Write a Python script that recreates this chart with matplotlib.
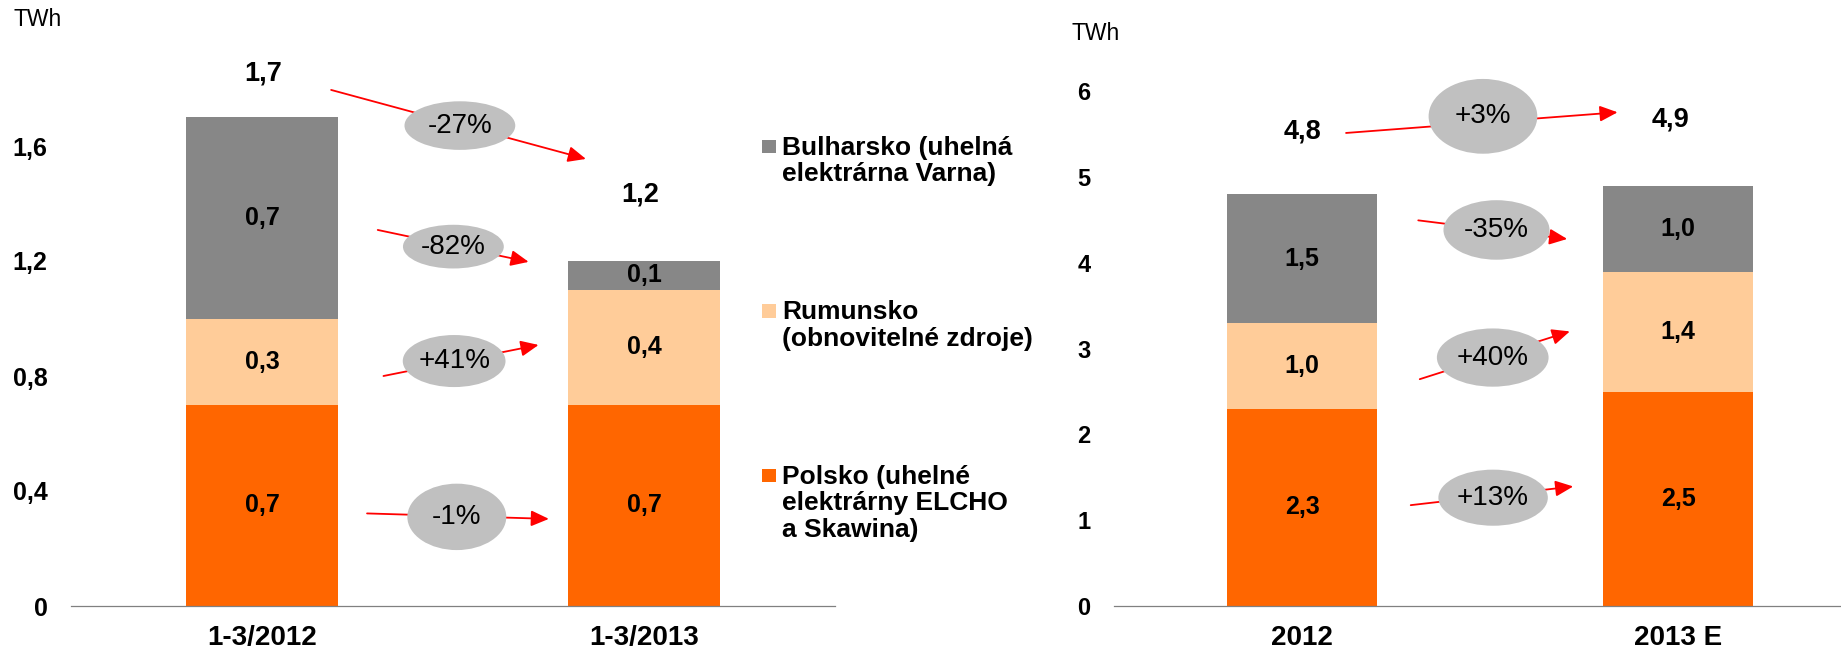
import matplotlib
matplotlib.use("Agg")
import matplotlib.pyplot as plt
from matplotlib.patches import Ellipse, Rectangle

plt.rcParams["font.family"] = ["Liberation Sans", "DejaVu Sans"]

# left chart: Q1 production, TWh
q_labels = ["1-3/2012", "1-3/2013"]
q_polsko = [0.7, 0.7]
q_rumunsko = [0.3, 0.4]
q_bulharsko = [0.7, 0.1]
q_changes = ["-27%", "-82%", "+41%", "-1%"]   # total, Bulharsko, Rumunsko, Polsko
q_ticks = [0, 0.4, 0.8, 1.2, 1.6]

# right chart: full year, TWh
y_labels = ["2012", "2013 E"]
y_polsko = [2.3, 2.5]
y_rumunsko = [1.0, 1.4]
y_bulharsko = [1.5, 1.0]
y_changes = ["+3%", "-35%", "+40%", "+13%"]
y_ticks = [0, 1, 2, 3, 4, 5, 6]

legend_labels = [
    "Bulharsko (uhelná\nelektrárna Varna)",
    "Rumunsko\n(obnovitelné zdroje)",
    "Polsko (uhelné\nelektrárny ELCHO\na Skawina)",
]

ORANGE = "#FF6600"
PEACH = "#FFCC99"
GRAY = "#878787"
BUBBLE = "#C0C0C0"

W, H = 1841, 652


def fmt(v):
    if v == 0:
        return "0"
    return f"{v:.1f}".replace(".", ",")


def box(x0, y0, x1, y1):
    # pixel box (from top left) -> figure fraction rect
    return [x0 / W, 1 - y1 / H, (x1 - x0) / W, (y1 - y0) / H]


def stacked(ax, cats, pol, rum, bul, tick_vals, tick_fmt, tick_size, total_offsets):
    x = list(range(len(cats)))
    base = [p + r for p, r in zip(pol, rum)]
    b1 = ax.bar(x, pol, 0.4, color=ORANGE)
    b2 = ax.bar(x, rum, 0.4, bottom=pol, color=PEACH)
    b3 = ax.bar(x, bul, 0.4, bottom=base, color=GRAY)
    for bars, vals in ((b1, pol), (b2, rum), (b3, bul)):
        ax.bar_label(bars, labels=[fmt(v) for v in vals], label_type="center",
                     fontsize=18, fontweight="bold")
    totals = [b + g for b, g in zip(base, bul)]
    for i, t in enumerate(totals):
        dx, dy = total_offsets[i]
        ax.annotate(fmt(t), xy=(i, t), xytext=(dx, dy), textcoords="offset pixels",
                    ha="center", va="center", fontsize=19.5, fontweight="bold")

    ax.set_yticks(tick_vals, [tick_fmt(v) for v in tick_vals],
                  fontsize=tick_size, fontweight="bold")
    ax.set_xticks(x, cats, fontsize=20, fontweight="bold")
    ax.tick_params(axis="y", length=0, pad=17)
    ax.tick_params(axis="x", length=0, pad=14)
    for s in ("left", "right", "top"):
        ax.spines[s].set_visible(False)
    ax.spines["bottom"].set_color("#808080")
    ax.spines["bottom"].set_linewidth(0.9)
    ax.set_facecolor("none")


def change_marks(ax, texts, layout):
    for txt, (x0, y0, x1, y1, ex, ey, ew, eh) in zip(texts, layout):
        ax.annotate("", xy=(x1, y1), xytext=(x0, y0),
                    arrowprops=dict(arrowstyle="-|>,head_length=0.45,head_width=0.2",
                                    color="red", lw=1.3, mutation_scale=24,
                                    shrinkA=0, shrinkB=0),
                    zorder=3)
        ax.add_patch(Ellipse((ex, ey), ew, eh, facecolor=BUBBLE, edgecolor="none", zorder=4))
        ax.text(ex, ey, txt, ha="center", va="center", fontsize=20, zorder=5)


fig = plt.figure(figsize=(W / 100, H / 100), dpi=100)

# left panel
ax1 = fig.add_axes(box(71, 31, 835, 606))
ax1.set_xlim(-0.5, 1.5)
ax1.set_ylim(0, 2.0)
stacked(ax1, q_labels, q_polsko, q_rumunsko, q_bulharsko, q_ticks, fmt, 18,
        [(1, 44), (-4, 66)])
change_marks(ax1, q_changes, [
    (0.181, 1.795, 0.848, 1.555, 0.518, 1.671, 0.290, 0.169),
    (0.303, 1.308, 0.698, 1.197, 0.501, 1.250, 0.264, 0.152),
    (0.318, 0.800, 0.724, 0.908, 0.503, 0.852, 0.269, 0.181),
    (0.275, 0.322, 0.751, 0.303, 0.510, 0.310, 0.259, 0.231),
])

# right panel
ax2 = fig.add_axes(box(1114, 40, 1841, 606))
ax2.set_xlim(-0.5, 1.433)
ax2.set_ylim(0, 6.6)
stacked(ax2, y_labels, y_polsko, y_rumunsko, y_bulharsko, y_ticks,
        lambda v: f"{v:d}", 17, [(0, 63), (-8, 66)])
change_marks(ax2, y_changes, [
    (0.117, 5.516, 0.839, 5.757, 0.481, 5.710, 0.289, 0.872),
    (0.309, 4.497, 0.705, 4.280, 0.517, 4.385, 0.282, 0.694),
    (0.313, 2.645, 0.712, 3.202, 0.507, 2.897, 0.297, 0.679),
    (0.289, 1.176, 0.721, 1.394, 0.508, 1.263, 0.291, 0.654),
])

# units
fig.text(14 / W, 1 - 20 / H, "TWh", fontsize=16.5, va="center", ha="left")
fig.text(1071 / W, 1 - 33 / H, "TWh", fontsize=16.5, va="center", ha="left")

# legend in the middle (first-line baselines)
for label, color, base_y in zip(legend_labels, [GRAY, PEACH, ORANGE], [156, 320.5, 485]):
    sq_top = base_y - 9.5 - 6.75
    fig.patches.append(Rectangle((762 / W, 1 - (sq_top + 13.5) / H), 13.5 / W, 13.5 / H,
                                 transform=fig.transFigure, figure=fig,
                                 facecolor=color, edgecolor="none"))
    fig.text(782 / W, 1 - (base_y - 20) / H, label, fontsize=19, fontweight="bold",
             va="top", ha="left", linespacing=1.13)

fig.savefig("out.png", dpi=100)
plt.close(fig)
